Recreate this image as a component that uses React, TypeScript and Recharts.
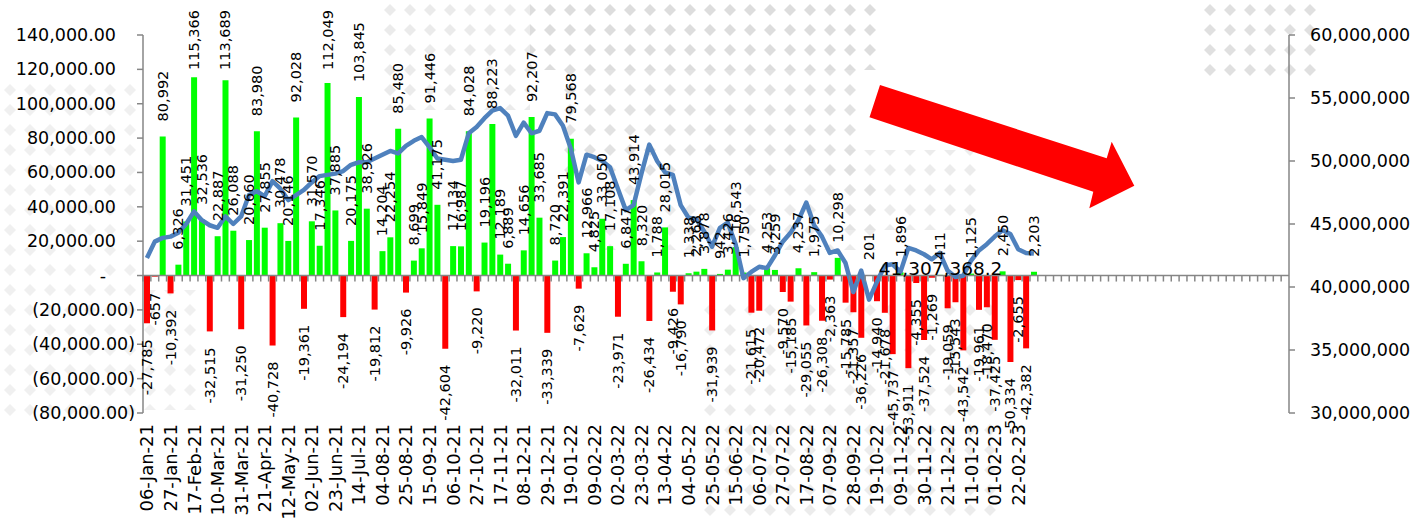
import React from "react";
import {
  ComposedChart,
  Bar,
  Line,
  XAxis,
  YAxis,
  ReferenceLine,
  LabelList,
  Cell,
} from "recharts";

// every third week gets a label on the category axis
const tickLabels = [
  "06-Jan-21", "27-Jan-21", "17-Feb-21", "10-Mar-21", "31-Mar-21", "21-Apr-21",
  "12-May-21", "02-Jun-21", "23-Jun-21", "14-Jul-21", "04-08-21", "25-08-21",
  "15-09-21", "06-10-21", "27-10-21", "17-11-21", "08-12-21", "29-12-21",
  "19-01-22", "09-02-22", "02-03-22", "23-03-22", "13-04-22", "04-05-22",
  "25-05-22", "15-06-22", "06-07-22", "27-07-22", "17-08-22", "07-09-22",
  "28-09-22", "19-10-22", "09-11-22", "30-11-22", "21-12-22", "11-01-23",
  "01-02-23", "22-02-23",
];

// weekly net flow (left axis)
const weeklyFlow = [
  -27785, -657, 80992, -10392, 6326, 31451, 115366, 32536, -32515, 22887,
  113689, 26088, -31250, 20660, 83980, 27855, -40728, 30478, 20146, 92028,
  -19361, 31570, 17346, 112049, 37885, -24194, 20175, 103845, 38926, -19812,
  14204, 22254, 85480, -9926, 8699, 15849, 91446, 41175, -42604, 17134,
  16987, 84028, -9220, 19196, 88223, 12189, 6889, -32011, 14656, 92207,
  33685, -33339, 8720, 22391, 79568, -7629, 12966, 4825, 33050, 17108,
  -23971, 6847, 43914, 8320, -26434, 1788, 28015, -9426, -16790, 1338,
  2268, 3878, -31939, 942, 3426, 16543, 1750, -21615, -20472, 4253,
  3259, -9570, -15185, 4237, -29055, 1975, -26308, -2363, 10298, -15785,
  -21357, -36226, 201, -14940, -21678, -45737, 1896, -53911, -4355, -37524,
  -1269, 411, -19059, -15543, -43542, 1125, -19961, -18470, -37425, 2450,
  -50334, -2655, -42382, 2203,
];

// total value, millions (right axis)
const totalMillions = [
  42.3, 43.6, 43.9, 44.0, 44.3, 45.0, 46.0, 45.3, 44.9, 44.7,
  45.6, 45.0, 45.6, 47.3, 47.6, 47.2, 48.4, 47.8, 46.9, 47.3,
  47.7, 48.3, 48.8, 48.9, 49.0, 49.2, 49.7, 49.9, 49.9, 50.2,
  50.5, 50.8, 50.6, 51.2, 51.6, 51.9, 51.1, 50.2, 50.1, 50.0,
  50.1, 52.2, 52.7, 53.4, 54.0, 54.2, 53.6, 52.0, 53.05, 52.2,
  52.4, 53.8, 53.7, 52.8, 51.0, 48.3, 50.5, 50.3, 50.0, 49.5,
  47.8, 46.1, 46.5, 49.0, 51.3, 50.0, 49.1, 48.9, 46.5, 45.5,
  45.4, 44.4, 43.2, 44.7, 45.1, 43.4, 40.7, 41.2, 41.6, 41.5,
  42.5, 43.6, 44.3, 45.3, 46.7, 44.9, 44.0, 42.7, 42.9, 41.9,
  39.6, 41.3, 39.0, 40.4, 41.7, 41.8, 41.2, 43.1, 42.9, 42.6,
  42.2, 42.7, 41.3073682, 40.8, 40.9, 42.1, 42.9, 43.4, 44.0, 44.5,
  44.2, 43.0, 42.7, 42.65,
];
const labelledTotalIndex = 102;

// empty weeks after the data, the axis keeps running to the right axis
const emptyWeeks = 32;

const leftTicks = [140000, 120000, 100000, 80000, 60000, 40000, 20000, 0, -20000, -40000, -60000, -80000];
const rightTicks = [60000000, 55000000, 50000000, 45000000, 40000000, 35000000, 30000000];

const FONT = "'DejaVu Sans', Verdana, sans-serif";
const AXIS_GREY = "#868686";
const W = 1417;
const H = 519;
const PLOT_TOP = 35;
const LEFT_W = 143;
const RIGHT_W = 128;
const XAXIS_H = 106;
const PLOT_BOTTOM = H - XAXIS_H;
const LEFT_MIN = -80000;
const LEFT_MAX = 140000;
const zeroY = PLOT_TOP + (LEFT_MAX / (LEFT_MAX - LEFT_MIN)) * (PLOT_BOTTOM - PLOT_TOP);

const rows = Array.from({ length: weeklyFlow.length + emptyWeeks }, (_, i) => ({
  slot: String(i),
  flow: i < weeklyFlow.length ? weeklyFlow[i] : null,
  total: i < totalMillions.length ? totalMillions[i] * 1e6 : null,
  label: i % 3 === 0 && i / 3 < tickLabels.length ? tickLabels[i / 3] : "",
}));
const bandW = (W - LEFT_W - RIGHT_W) / rows.length;

const fmt2 = (v: number) =>
  v.toLocaleString("en-US", { minimumFractionDigits: 2, maximumFractionDigits: 2 });

function textLen(s: string, size: number) {
  let em = 0;
  for (const ch of s) {
    if (ch === ",") em += 0.318;
    else if (ch === "-") em += 0.361;
    else em += 0.636;
  }
  return em * size;
}

function DateTick(props: any) {
  const { x, payload } = props;
  const row = rows[Number(payload.value)];
  return (
    <g>
      <line x1={x - bandW / 2} x2={x - bandW / 2} y1={zeroY} y2={zeroY + 6} stroke={AXIS_GREY} strokeWidth={1.5} />
      {row && row.label ? (
        <text
          transform={`translate(${x},${PLOT_BOTTOM + 11}) rotate(-90)`}
          textAnchor="end"
          dominantBaseline="central"
          fontSize={18}
          fontFamily={FONT}
          fill="#000"
        >
          {row.label}
        </text>
      ) : null}
    </g>
  );
}

function LeftTick(props: any) {
  const { y, payload } = props;
  const v = payload.value as number;
  let text = fmt2(v);
  let endX = 116;
  if (v === 0) {
    text = "-";
    endX = 106;
  } else if (v < 0) {
    text = `(${fmt2(-v)})`;
    endX = 135;
  }
  return (
    <text x={endX} y={y} textAnchor="end" dominantBaseline="central" fontSize={17.5} fontFamily={FONT} fill="#000">
      {text}
    </text>
  );
}

function RightTick(props: any) {
  const { y, payload } = props;
  return (
    <text x={W - RIGHT_W + 21} y={y} textAnchor="start" dominantBaseline="central" fontSize={17.5} fontFamily={FONT} fill="#000">
      {(payload.value as number).toLocaleString("en-US")}
    </text>
  );
}

function FlowLabel(props: any) {
  const { x, y, width, height, value } = props;
  if (value === null || value === undefined) return null;
  const size = 14.5;
  const text = Number(value).toLocaleString("en-US");
  const cx = x + width / 2;
  const top = Math.min(y, y + height);
  const bottom = Math.max(y, y + height);
  if (value >= 0) {
    const len = textLen(text, size);
    const start = Math.max(top - 15, 10 + len);
    return (
      <text transform={`translate(${cx},${start}) rotate(-90)`} textAnchor="start" dominantBaseline="central" fontSize={size} fontFamily={FONT} fill="#000">
        {text}
      </text>
    );
  }
  return (
    <text transform={`translate(${cx},${bottom + 16}) rotate(-90)`} textAnchor="end" dominantBaseline="central" fontSize={size} fontFamily={FONT} fill="#000">
      {text}
    </text>
  );
}

function TotalLabel(props: any) {
  const { x, y, value, index } = props;
  if (index !== labelledTotalIndex || value == null) return null;
  const text = Number(value).toLocaleString("en-US", { minimumFractionDigits: 1, maximumFractionDigits: 1 });
  return (
    <text x={x - 7} y={y - 2} textAnchor="middle" dominantBaseline="central" fontSize={18.5} fontFamily={FONT} fill="#000">
      {text}
    </text>
  );
}

// faint diamond watermark behind the chart: a few rectangular patches of diamonds
const watermarkPatches = [
  { x: 530, y: 0, w: 350, h: 70, o: 1 },
  { x: 560, y: 70, w: 300, h: 110, o: 0.85 },
  { x: 600, y: 180, w: 280, h: 70, o: 0.6 },
  { x: 380, y: 0, w: 150, h: 110, o: 0.6 },
  { x: 0, y: 80, w: 140, h: 340, o: 0.45 },
  { x: 140, y: 290, w: 60, h: 120, o: 0.45 },
  { x: 700, y: 300, w: 300, h: 219, o: 0.55 },
  { x: 840, y: 150, w: 140, h: 80, o: 0.55 },
  { x: 1200, y: 0, w: 120, h: 80, o: 0.9 },
];

function Watermark() {
  return (
    <svg width={W} height={H} style={{ position: "absolute", left: 0, top: 0 }}>
      <defs>
        <pattern id="wmDiamond" x={0} y={0} width={20} height={20} patternUnits="userSpaceOnUse">
          <polygon points="10,4 16,10 10,16 4,10" fill="#DDDDDD" />
        </pattern>
      </defs>
      {watermarkPatches.map((p, i) => (
        <rect key={i} x={p.x} y={p.y} width={p.w} height={p.h} fill="url(#wmDiamond)" opacity={p.o} />
      ))}
    </svg>
  );
}

function TrendArrow() {
  return (
    <svg width={W} height={H} style={{ position: "absolute", left: 0, top: 0, pointerEvents: "none" }}>
      <polygon
        points="880,85 1106.7,158.3 1111.7,141.7 1134.3,185.7 1089.3,208.3 1093.3,191.7 869.5,117.3"
        fill="#FF0000"
      />
    </svg>
  );
}

export default function App() {
  return (
    <div style={{ position: "absolute", left: 0, top: 0, width: W, height: H, background: "#fff", fontFamily: FONT }}>
      <Watermark />
      <div style={{ position: "absolute", left: 0, top: 0 }}>
        <ComposedChart width={W} height={H} data={rows} margin={{ top: PLOT_TOP, right: 0, bottom: 0, left: 0 }}>
          <XAxis
            dataKey="slot"
            xAxisId="x"
            interval={0}
            height={XAXIS_H}
            axisLine={false}
            tickLine={false}
            tick={<DateTick />}
          />
          <YAxis
            yAxisId="left"
            domain={[LEFT_MIN, LEFT_MAX]}
            ticks={leftTicks}
            width={LEFT_W}
            axisLine={{ stroke: AXIS_GREY, strokeWidth: 1.5 }}
            tickLine={{ stroke: AXIS_GREY, strokeWidth: 1.5 }}
            tickSize={6}
            tick={<LeftTick />}
          />
          <YAxis
            yAxisId="right"
            orientation="right"
            domain={[30000000, 60000000]}
            ticks={rightTicks}
            width={RIGHT_W}
            axisLine={{ stroke: AXIS_GREY, strokeWidth: 1.5 }}
            tickLine={{ stroke: AXIS_GREY, strokeWidth: 1.5 }}
            tickSize={6}
            tick={<RightTick />}
          />
          <Bar xAxisId="x" yAxisId="left" dataKey="flow" barSize={6} isAnimationActive={false}>
            {rows.map((r) => (
              <Cell key={r.slot} fill={r.flow !== null && r.flow < 0 ? "#FF0000" : "#00FF00"} />
            ))}
            <LabelList dataKey="flow" content={<FlowLabel />} />
          </Bar>
          <ReferenceLine xAxisId="x" yAxisId="left" y={0} stroke={AXIS_GREY} strokeWidth={1.5} />
          <Line
            xAxisId="x"
            yAxisId="right"
            dataKey="total"
            stroke="#4F81BD"
            strokeWidth={4.5}
            strokeLinejoin="round"
            dot={false}
            isAnimationActive={false}
          >
            <LabelList dataKey="total" content={<TotalLabel />} />
          </Line>
        </ComposedChart>
      </div>
      <TrendArrow />
    </div>
  );
}
